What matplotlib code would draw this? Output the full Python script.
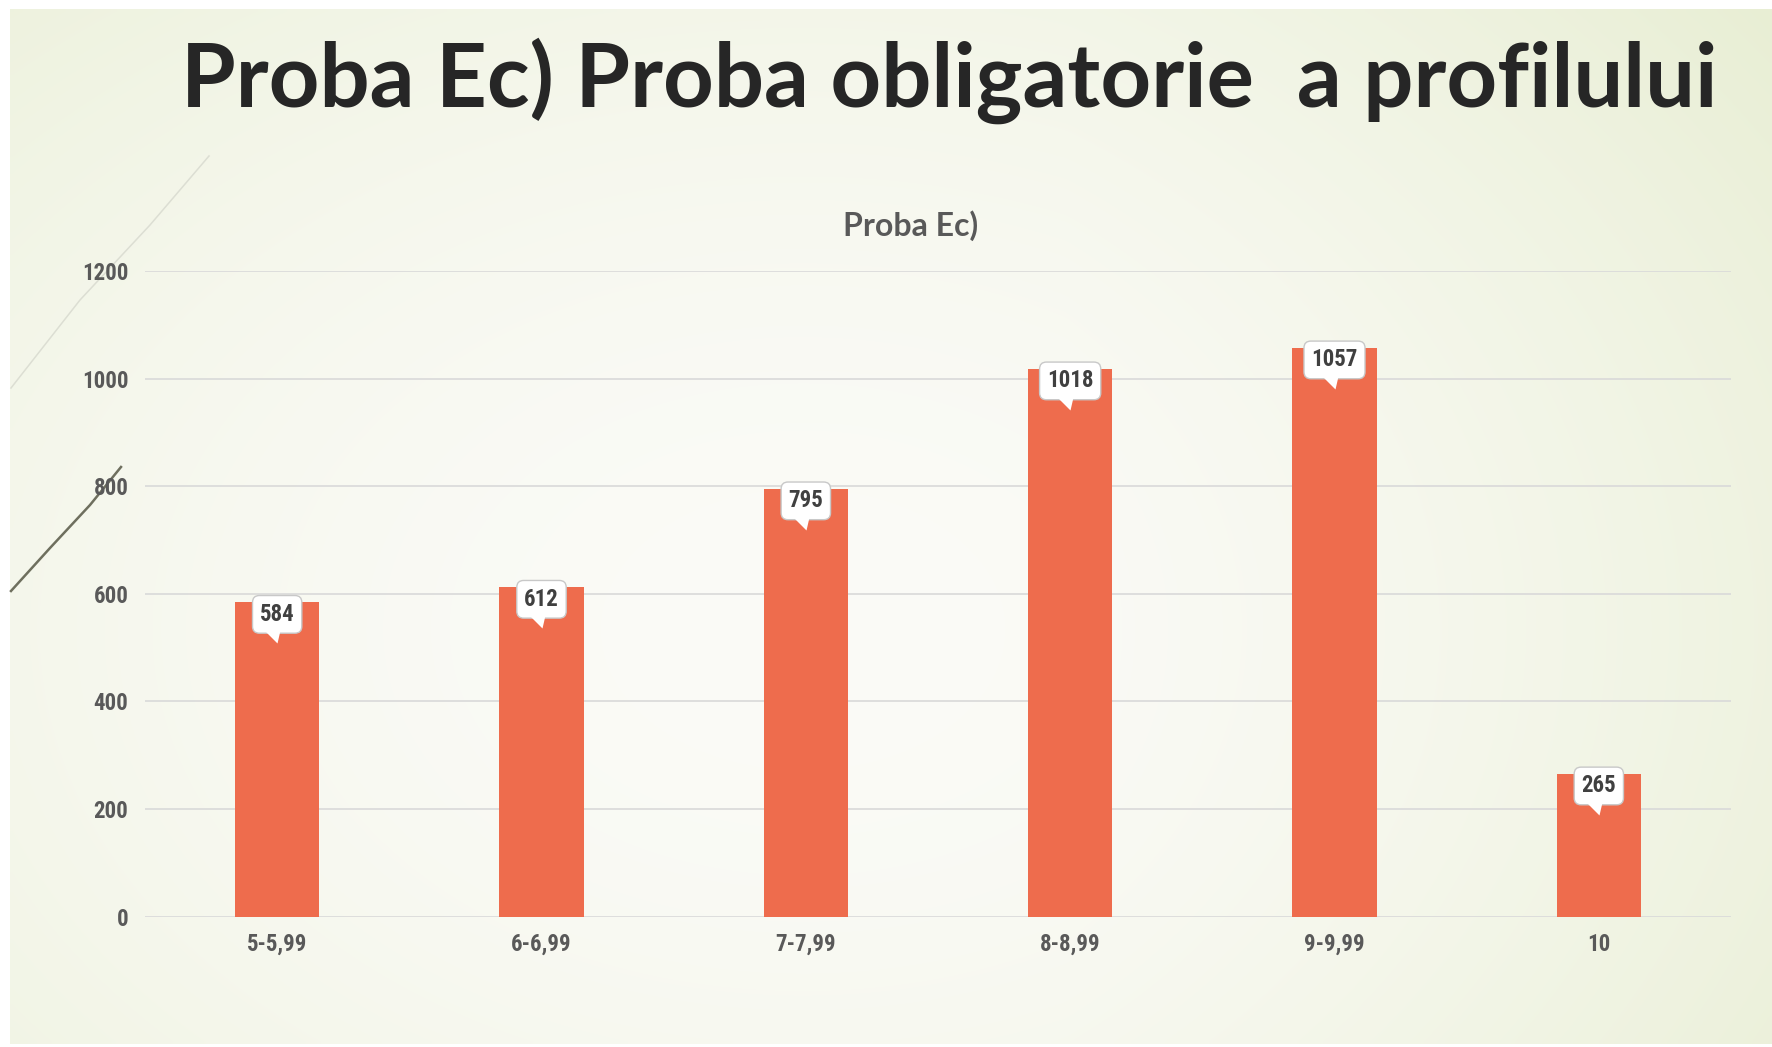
import numpy as np
import matplotlib
matplotlib.use("Agg")
import matplotlib.pyplot as plt
from matplotlib import font_manager
from matplotlib.path import Path
from matplotlib.transforms import offset_copy

# ==============================
# Data
# ==============================
categories = ['5-5,99', '6-6,99', '7-7,99', '8-8,99', '9-9,99', '10']
values = [584, 612, 795, 1018, 1057, 265]
y_ticks = [0, 200, 400, 600, 800, 1000, 1200]

slide_title = 'Proba Ec) Proba obligatorie  a profilului'
chart_title = 'Proba Ec)'

# ==============================
# Fonts
# ==============================
ttfs = font_manager.fontManager.ttflist
installed = {f.name for f in ttfs}
narrow, stretch = 'DejaVu Sans', 'normal'
for cand in ['Roboto Condensed', 'Liberation Sans Narrow', 'Open Sans Condensed',
             'Noto Sans Condensed', 'DejaVu Sans Condensed']:
    if cand in installed:
        narrow = cand
        break
else:
    if any(f.name == 'DejaVu Sans' and f.stretch == 'condensed' for f in ttfs):
        stretch = 'condensed'
head = 'Lato' if 'Lato' in installed else 'DejaVu Sans'

W, H = 1772, 1047
fig = plt.figure(figsize=(W / 100, H / 100), dpi=100, facecolor='white')

# ==============================
# Slide background (soft green gradient)
# ==============================
bg = fig.add_axes([0, 0, 1, 1], zorder=-10)
bg.set_xlim(0, W)
bg.set_ylim(H, 0)
bg.axis('off')

yy, xx = np.mgrid[0:1:200j, 0:1:340j]
r = np.sqrt(((xx - 0.45) / 0.8) ** 2 + ((yy - 0.6) / 0.95) ** 2)
t = np.clip(r, 0, 1) ** 1.8
t = np.clip(0.8 * t + 0.35 * np.clip(xx - 0.6, 0, None), 0, 1)
c0 = np.array([251, 251, 247]) / 255
c1 = np.array([229, 236, 206]) / 255
img = c0 + (c1 - c0) * t[..., None]
bg.imshow(img, extent=(10, W, 1044, 9), aspect='auto', interpolation='bilinear')

# decorative theme strokes on the left edge
bg.plot([209, 150, 80, 11], [156, 225, 300, 388], color='#dcded3', lw=1.1)
bg.plot([121, 90, 50, 11], [467, 505, 548, 591], color='#6e6f5e', lw=1.8)

# ==============================
# Titles
# ==============================
ttl = fig.text(181 / W, 1 - 107 / H, slide_title, ha='left', va='baseline',
               fontsize=60, fontweight='bold', color='#262626', family=head)
fig.canvas.draw()
wpx = ttl.get_window_extent().width
ttl.set_fontsize(60 * 1537 / wpx)

fig.text(911 / W, 1 - 226 / H, chart_title, ha='center', va='center',
         fontsize=23, fontweight='bold', color='#595959', family=head)

# ==============================
# Bar chart
# ==============================
ax = fig.add_axes([145 / W, 1 - 916.5 / H, (1731 - 145) / W, (916.5 - 271) / H])
ax.patch.set_alpha(0)

x = np.arange(len(categories))
ax.bar(x, values, width=0.32, color='#EE6C4D', zorder=2)

ax.set_xlim(-0.5, len(categories) - 0.5)
ax.set_ylim(0, 1200)
ax.set_yticks(y_ticks)
ax.set_xticks(x)
ax.set_xticklabels(categories)
ax.yaxis.grid(True, color='#d9d9d9', lw=1.2)
ax.set_axisbelow(True)
for s in ax.spines.values():
    s.set_visible(False)
ax.tick_params(length=0, colors='#595959', labelsize=16.5)
ax.tick_params(axis='y', pad=12)
ax.tick_params(axis='x', pad=12)
for lab in ax.get_xticklabels() + ax.get_yticklabels():
    lab.set_family(narrow)
    lab.set_fontstretch(stretch)
    lab.set_fontweight('bold')

# ==============================
# Callout data labels
# ==============================
tail = Path([(-13, 2), (3, 2), (0, -11), (-13, 2)],
            [Path.MOVETO, Path.LINETO, Path.LINETO, Path.CLOSEPOLY])
tail_tr = offset_copy(ax.transData, fig=fig, x=0, y=-30, units='dots')

for i, v in enumerate(values):
    ax.annotate(f'{v}', xy=(i, v), xytext=(0, -12), textcoords='offset pixels',
                ha='center', va='center', fontsize=16.5, family=narrow,
                fontstretch=stretch, fontweight='bold', color='#404040', zorder=4,
                bbox=dict(boxstyle='round,pad=0.32,rounding_size=0.3',
                          fc='white', ec='#c8c8c8', lw=1))
    ax.plot([i], [v], marker=tail, ms=18.7, mfc='white', mec='none',
            transform=tail_tr, zorder=5, clip_on=False)

plt.savefig('out.png', dpi=100, facecolor='white')
plt.close()
